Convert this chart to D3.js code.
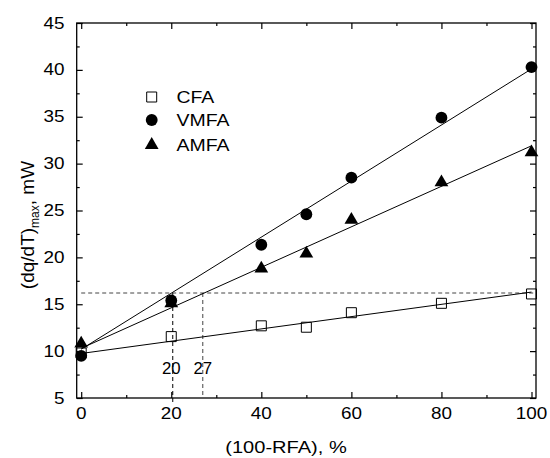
<!DOCTYPE html>
<html>
<head>
<meta charset="utf-8">
<script src="https://cdn.jsdelivr.net/npm/d3@7"></script>
<style>
  body { margin: 0; background: #fff; }
  text { font-family: "Liberation Sans", Arial, sans-serif; fill: #000; }
</style>
</head>
<body>
<script>
var width = 550,
  height = 458;

// data
const xValues = [0, 20, 40, 50, 60, 80, 100];
const cfa = [9.8, 11.55, 12.7, 12.55, 14.1, 15.1, 16.1];
const vmfa = [9.5, 15.4, 21.35, 24.6, 28.5, 34.9, 40.3];
const amfa = [10.8, 15.1, 18.8, 20.4, 24.0, 28.0, 31.2];
const seriesNames = ["CFA", "VMFA", "AMFA"];
// fitted lines: [intercept, slope]
const fitCfa = [9.75, 0.0655];
const fitVmfa = [10.2, 0.299];
const fitAmfa = [10.3, 0.216];
const refLevel = 16.2;
const crossings = [20, 27];
const xTicks = [0, 20, 40, 60, 80, 100];
const yTicks = [5, 10, 15, 20, 25, 30, 35, 40, 45];

const svg = d3
  .select("body")
  .append("svg")
  .attr("width", width)
  .attr("height", height);

const x = d3.scaleLinear().domain([-1, 101]).range([76.7, 536]);
const y = d3.scaleLinear().domain([5, 45]).range([398, 23]);

const stretch = 1.18;

function label(g, tx, ty, str, size, anchor, sx) {
  return g
    .append("text")
    .attr("transform", "translate(" + tx + "," + ty + ") scale(" + (sx || stretch) + ",1)")
    .attr("text-anchor", anchor || "start")
    .style("font-size", size + "px")
    .text(str);
}

// reference dashed lines
const ref = svg.append("g").attr("fill", "none");
ref
  .append("line")
  .attr("x1", x(0))
  .attr("x2", x(101))
  .attr("y1", y(refLevel))
  .attr("y2", y(refLevel))
  .attr("stroke", "#444")
  .attr("stroke-dasharray", "4,3");
crossings.forEach(function (c, i) {
  ref
    .append("line")
    .attr("x1", x(c) + (i == 0 ? 1.5 : 0))
    .attr("x2", x(c) + (i == 0 ? 1.5 : 0))
    .attr("y1", y(refLevel))
    .attr("y2", y(5) + (i == 0 ? 4 : 0))
    .attr("stroke", i == 0 ? "#000" : "#444")
    .attr("stroke-dasharray", "4,3");
  label(svg, x(c), 374, String(c), 16.5, "middle", 1.02);
});

// fit lines
[fitCfa, fitVmfa, fitAmfa].forEach(function (f) {
  svg
    .append("line")
    .attr("x1", x(0))
    .attr("y1", y(f[0]))
    .attr("x2", x(100))
    .attr("y2", y(f[0] + f[1] * 100))
    .attr("stroke", "#000")
    .attr("stroke-width", 1);
});

// markers
const symbols = [
  { type: d3.symbolSquare, size: 100, fill: "none", stroke: "#000" },
  { type: d3.symbolCircle, size: 110, fill: "#000", stroke: "none" },
  { type: d3.symbolTriangle, size: 82, fill: "#000", stroke: "none" },
];
const series = [cfa, vmfa, amfa];

series.forEach(function (vals, i) {
  const s = symbols[i];
  svg
    .append("g")
    .selectAll("path")
    .data(vals)
    .enter()
    .append("path")
    .attr("transform", function (d, j) {
      return "translate(" + x(xValues[j]) + "," + y(d) + ")";
    })
    .attr("d", d3.symbol().type(s.type).size(s.size))
    .attr("fill", s.fill)
    .attr("stroke", s.stroke)
    .attr("stroke-width", 1);
});

// axes, ticks inside
const minorX = d3.range(0, 101, 10).filter((v) => v % 20 != 0);
const minorY = d3.range(7.5, 45, 5);

function frame(axisFn, scale, major, minor, tr) {
  const g = svg.append("g").attr("transform", tr);
  g.call(axisFn(scale).tickValues(major).tickSize(-6).tickFormat(""));
  const m = svg.append("g").attr("transform", tr);
  m.call(axisFn(scale).tickValues(minor).tickSize(-3).tickFormat(""));
  [g, m].forEach(function (a) {
    a.select(".domain").remove();
    a.selectAll("line").attr("stroke", "#000").attr("stroke-width", 1.2);
  });
}
frame(d3.axisBottom, x, xTicks, minorX, "translate(0," + y(5) + ")");
frame(d3.axisTop, x, xTicks, minorX, "translate(0," + y(45) + ")");
frame(d3.axisLeft, y, yTicks, minorY, "translate(" + x(-1) + ",0)");
frame(d3.axisRight, y, yTicks, minorY, "translate(" + x(101) + ",0)");

svg
  .append("rect")
  .attr("x", x(-1))
  .attr("y", y(45))
  .attr("width", x(101) - x(-1))
  .attr("height", y(5) - y(45))
  .attr("fill", "none")
  .attr("stroke", "#000")
  .attr("stroke-width", 1.3);

// tick labels
xTicks.forEach(function (t) {
  label(svg, x(t), 419, String(t), 16, "middle");
});
yTicks.forEach(function (t) {
  label(svg, 64.5, y(t) + 5.5, String(t), 16, "end");
});

// axis titles
label(svg, 286, 453, "(100-RFA), %", 17, "middle");

const yt = svg
  .append("text")
  .attr("transform", "translate(34,225) rotate(-90)")
  .attr("text-anchor", "middle")
  .style("font-size", "19px");
yt.append("tspan").text("(dq/dT)");
yt.append("tspan").attr("dy", 5).style("font-size", "12px").text("max");
yt.append("tspan").attr("dy", -5).text(", mW");

// legend
const legendY = [97, 120, 145];
seriesNames.forEach(function (n, i) {
  const s = symbols[i];
  svg
    .append("path")
    .attr("transform", "translate(151.7," + legendY[i] + ")")
    .attr("d", d3.symbol().type(s.type).size(s.size))
    .attr("fill", s.fill)
    .attr("stroke", s.stroke);
  label(svg, 176.5, legendY[i] + 6, n, 16.5, "start");
});
</script>
</body>
</html>
